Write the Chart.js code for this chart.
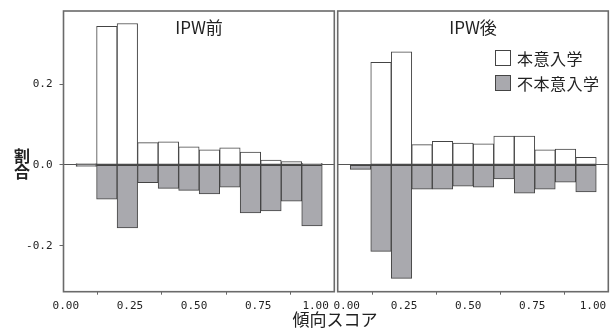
<!DOCTYPE html>
<html><head><meta charset="utf-8">
<script src="https://cdn.jsdelivr.net/npm/chart.js@4/dist/chart.umd.min.js"></script>
<style>
html,body{margin:0;padding:0;background:#fff;}
#wrap{position:relative;width:611px;height:332px;overflow:hidden;font-family:"Noto Sans CJK JP",sans-serif;color:#222;}
canvas{position:absolute;top:0;left:0;}
.t{position:absolute;white-space:nowrap;line-height:1;}
.box{position:absolute;width:14px;height:14px;border:1px solid #444;}
</style></head>
<body><div id="wrap">
<canvas id="c1" width="611" height="332" style="width:611px;height:332px"></canvas>
<canvas id="c2" width="611" height="332" style="width:611px;height:332px"></canvas>
<div class="t" id="tt1" style="font-size:17px;left:199px;top:18px;transform:translateX(-50%)">IPW前</div>
<div class="t" id="tt2" style="font-size:17px;left:473px;top:18px;transform:translateX(-50%)">IPW後</div>
<div class="box" style="left:495px;top:50px;background:#fff"></div>
<div class="t" style="font-size:16px;left:517px;top:50px;letter-spacing:0.5px">本意入学</div>
<div class="box" style="left:495px;top:75px;background:#a9a9ae"></div>
<div class="t" style="font-size:16px;left:517px;top:75px;letter-spacing:0.5px">不本意入学</div>
<div class="t" style="font-size:16px;left:14px;top:147px;line-height:16px;font-weight:bold;width:16px;text-align:center">割<br>合</div>
<div class="t" style="font-size:17px;left:335px;top:310px;transform:translateX(-50%)">傾向スコア</div>
</div>
<script>
// Bin centres of the propensity-score histogram (width 0.08)
const binCenters = [0.08, 0.16, 0.24, 0.32, 0.40, 0.48, 0.56, 0.64, 0.72, 0.80, 0.88, 0.96];
// IPW前 (before)
const beforeHoni   = [0.003, 0.343, 0.350, 0.055, 0.057, 0.045, 0.037, 0.042, 0.032, 0.012, 0.008, 0.004];
const beforeFuhoni = [-0.004, -0.085, -0.156, -0.044, -0.058, -0.063, -0.072, -0.055, -0.119, -0.114, -0.090, -0.151];
// IPW後 (after)
const afterHoni    = [0.000, 0.254, 0.280, 0.050, 0.058, 0.054, 0.052, 0.071, 0.071, 0.037, 0.039, 0.019];
const afterFuhoni  = [-0.011, -0.214, -0.281, -0.060, -0.060, -0.053, -0.055, -0.035, -0.070, -0.060, -0.043, -0.067];
const xTicks = [0, 0.25, 0.5, 0.75, 1.0];
const yTicks = [-0.2, 0, 0.2];
const seriesNames = ['本意入学', '不本意入学'];

const WHITE = '#ffffff', GRAY = '#a9a9ae', EDGE = '#444444';
const tickFont = {family: '"DejaVu Sans Mono","Liberation Mono",monospace', size: 11};

const boxPlugin = {
  id: 'panelBox',
  afterDraw(chart) {
    const a = chart.chartArea, c = chart.ctx;
    c.save();
    c.strokeStyle = '#6a6a6a';
    c.lineWidth = 1.6;
    c.strokeRect(a.left, a.top, a.right - a.left, a.bottom - a.top);
    c.restore();
  }
};

function makeChart(id, honi, fuhoni, opts) {
  const pts = arr => arr.map((v, i) => ({x: binCenters[i], y: v}));
  return new Chart(document.getElementById(id), {
    type: 'bar',
    data: {
      datasets: [
        {label: seriesNames[0], data: pts(honi), backgroundColor: WHITE, borderColor: EDGE, borderWidth: 1, borderSkipped: false},
        {label: seriesNames[1], data: pts(fuhoni), backgroundColor: GRAY, borderColor: EDGE, borderWidth: 1, borderSkipped: false}
      ]
    },
    options: {
      responsive: false,
      animation: false,
      events: [],
      grouped: false,
      barPercentage: 1,
      categoryPercentage: 1,
      layout: {padding: {top: 11, right: opts.padRight, left: 0, bottom: 0}},
      plugins: {legend: {display: false}, title: {display: false}, tooltip: {enabled: false}},
      scales: {
        x: {
          type: 'linear', min: -0.009, max: 1.047, offset: false,
          border: {display: false},
          grid: {drawOnChartArea: false, tickLength: 3, tickColor: '#666'},
          afterBuildTicks: s => { s.ticks = xTicks.map(v => ({value: v})); },
          afterFit: s => { s.height = 40.3; s.paddingLeft = 0; s.paddingRight = 0; },
          ticks: {font: tickFont, color: '#222', padding: 5, maxRotation: 0, autoSkip: false,
                  callback: v => {
                    const s = Number(v).toFixed(2);
                    if (v === 1) return s + opts.lastPad;
                    if (v === 0 && opts.shiftFirst) return '  ' + s;
                    return s;
                  }}
        },
        y: {
          type: 'linear', min: -0.314, max: 0.381,
          border: {display: false},
          grid: {
            color: c => (c.tick && c.tick.value === 0) ? '#555' : 'rgba(0,0,0,0)',
            lineWidth: 1,
            tickColor: opts.yLabels ? '#666' : 'rgba(0,0,0,0)',
            tickLength: opts.yLabels ? 4 : 0,
            drawTicks: opts.yLabels
          },
          afterBuildTicks: s => { s.ticks = yTicks.map(v => ({value: v})); },
          afterFit: s => { s.width = opts.yWidth; s.paddingTop = 0; s.paddingBottom = 0; },
          ticks: {display: opts.yLabels, font: tickFont, color: '#222', padding: 7,
                  callback: v => Number(v).toFixed(1)}
        }
      }
    },
    plugins: [boxPlugin]
  });
}

makeChart('c1', beforeHoni, beforeFuhoni, {padRight: 276.7, yWidth: 63.5, yLabels: true, shiftFirst: false, lastPad: '  '});
makeChart('c2', afterHoni, afterFuhoni, {padRight: 2.7, yWidth: 337.7, yLabels: false, shiftFirst: true, lastPad: ' '});
</script>
</body></html>
